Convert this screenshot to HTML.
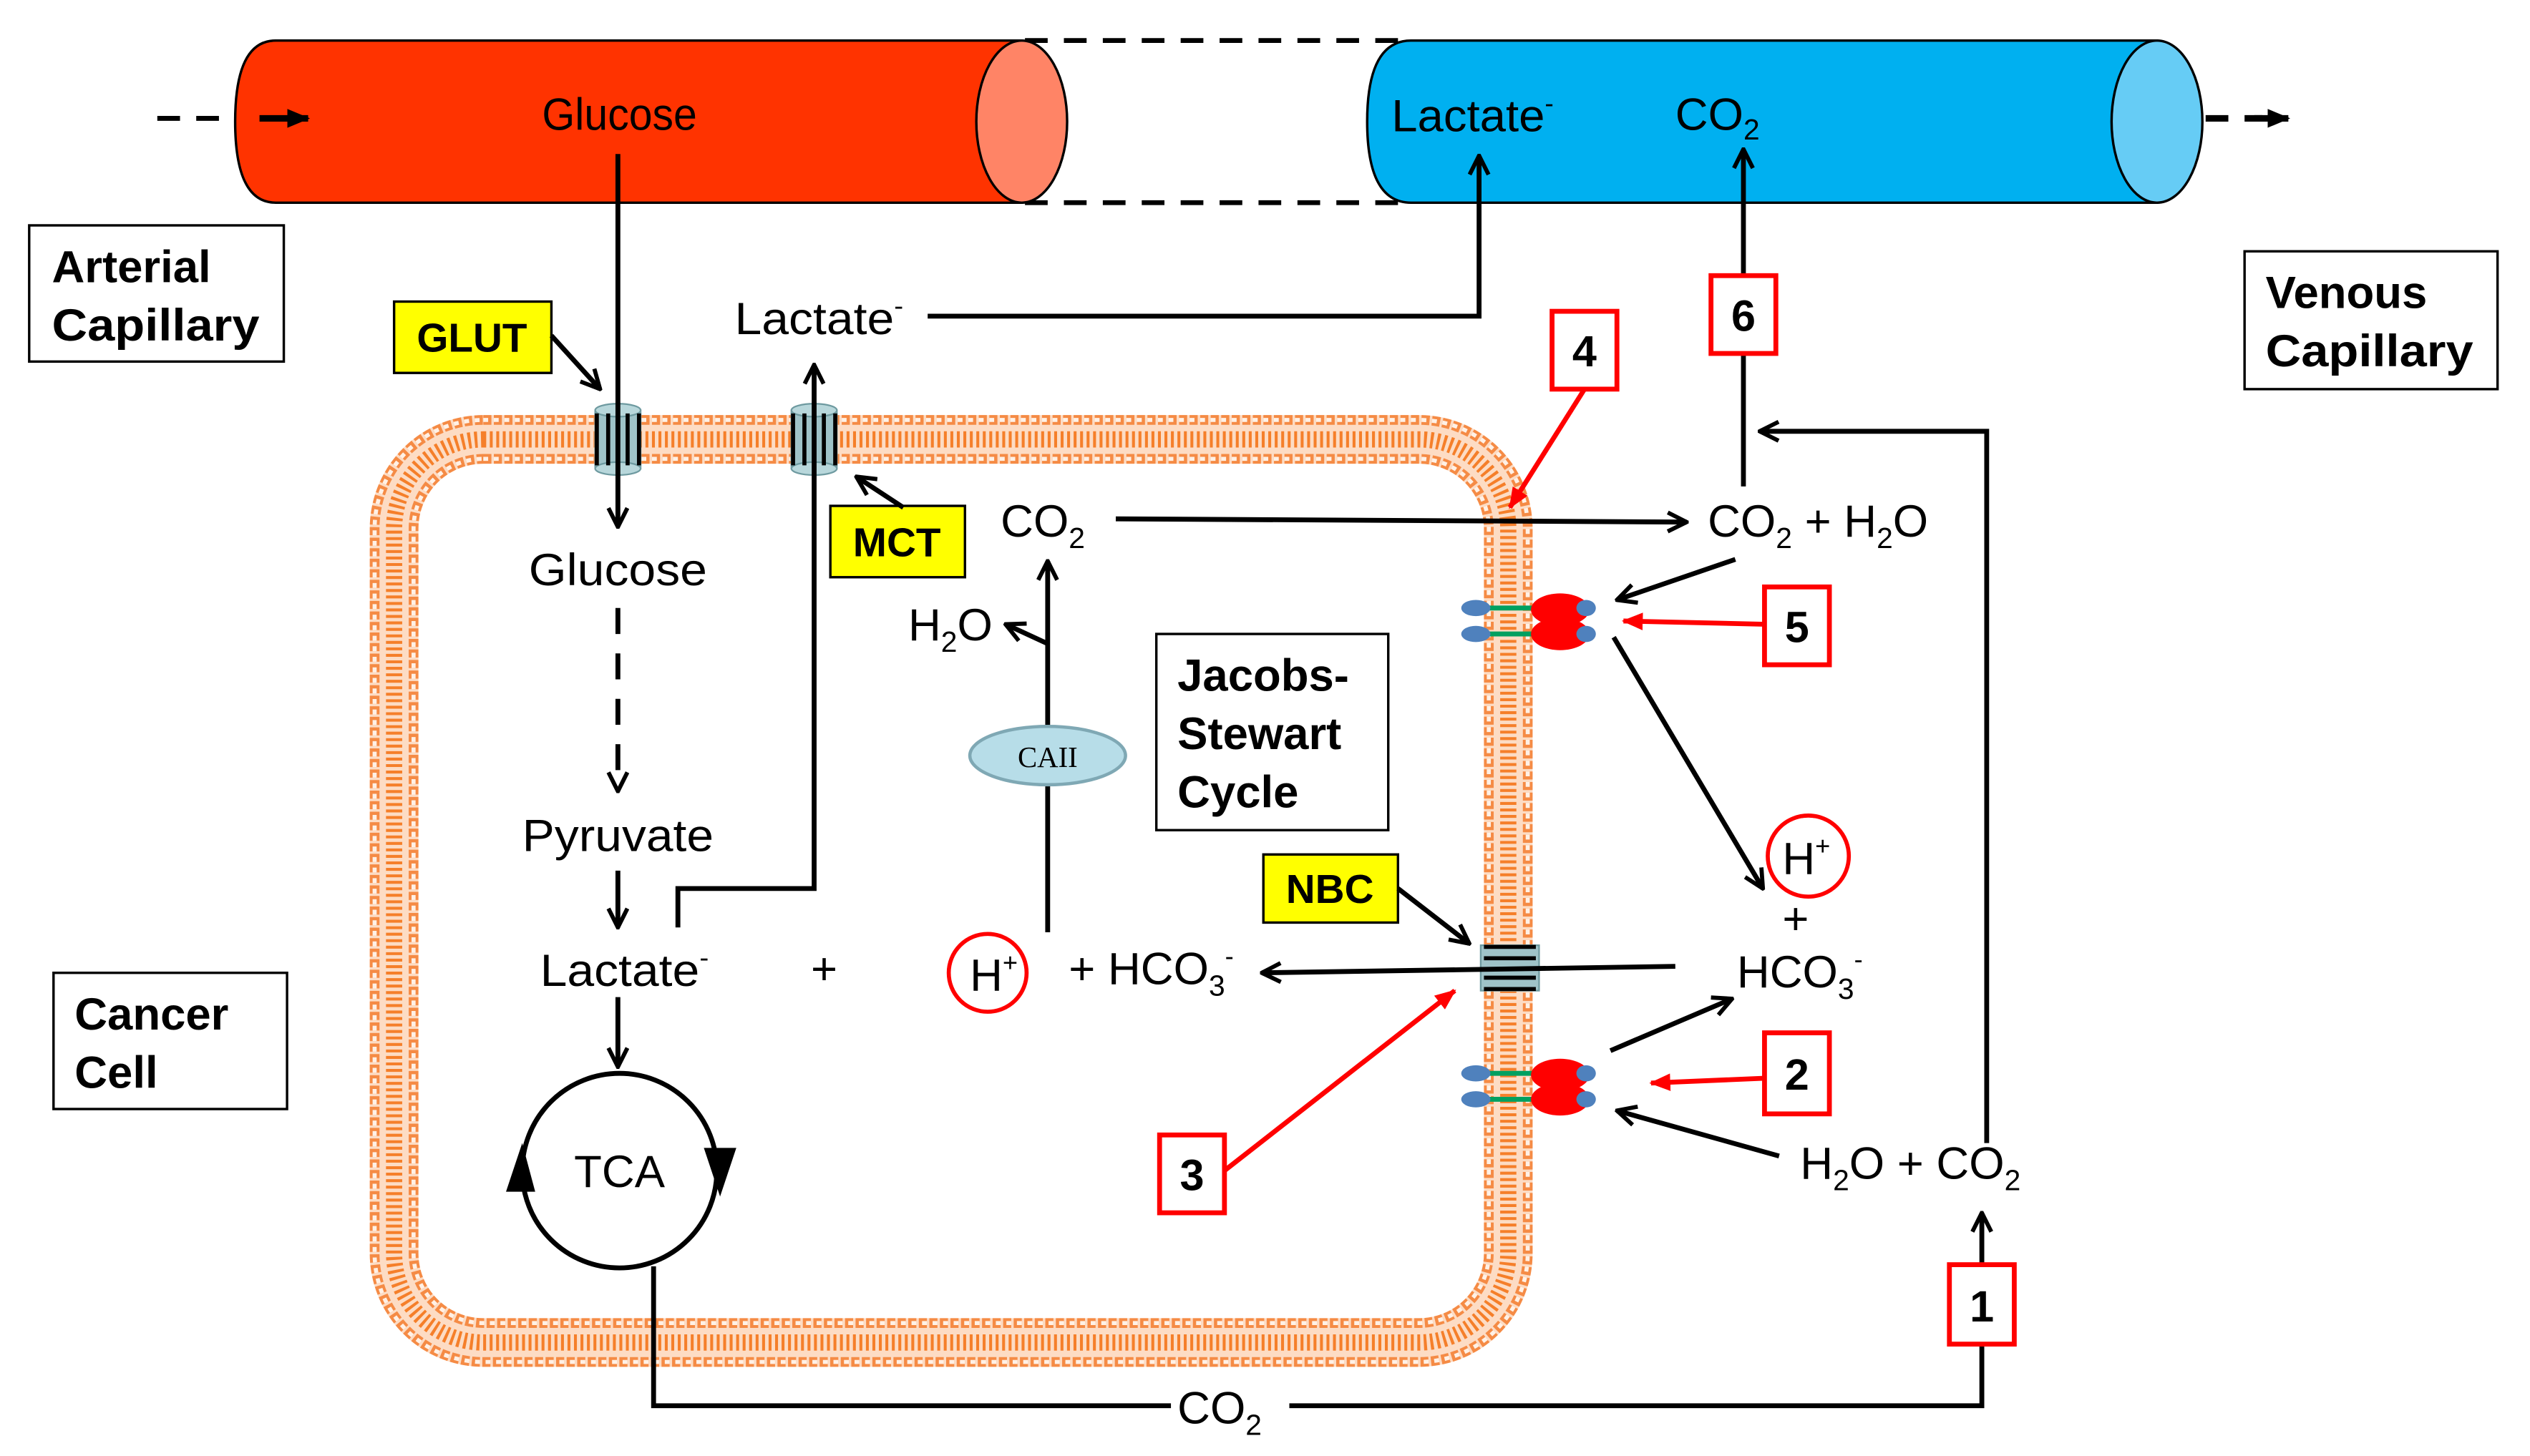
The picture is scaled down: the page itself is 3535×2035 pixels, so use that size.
<!DOCTYPE html>
<html><head><meta charset="utf-8"><style>
html,body{margin:0;padding:0;background:#fff}
svg{display:block}
text{font-family:"Liberation Sans",Arial,sans-serif;fill:#000}
.b{font-weight:bold}
</style></head><body>
<svg width="3535" height="2035" viewBox="0 0 1560 898" preserveAspectRatio="none" xmlns="http://www.w3.org/2000/svg">
<defs>
<marker id="a" viewBox="0 0 12 12" refX="11" refY="6" markerWidth="14" markerHeight="14" markerUnits="userSpaceOnUse" orient="auto">
<path d="M1,1 L11,6 L1,11" fill="none" stroke="#000" stroke-width="2.2"/></marker>
<marker id="r" viewBox="0 0 12 12" refX="11" refY="6" markerWidth="13" markerHeight="13" markerUnits="userSpaceOnUse" orient="auto">
<path d="M0,1 L12,6 L0,11 z" fill="#f00"/></marker>
<marker id="f" viewBox="0 0 12 12" refX="11" refY="6" markerWidth="14" markerHeight="14" markerUnits="userSpaceOnUse" orient="auto">
<path d="M0,1 L12,6 L0,11 z" fill="#000"/></marker>
</defs>

<g stroke="#000" stroke-width="3" stroke-dasharray="14 10" fill="none">
<line x1="632" y1="25" x2="870" y2="25"/><line x1="632" y1="125" x2="870" y2="125"/>
<line x1="97" y1="73" x2="150" y2="73"/>
<line x1="1312" y1="73" x2="1395" y2="73" stroke-width="4"/>
</g>
<path d="M170,25 L630,25 L630,125 L170,125 Q145,125 145,75 Q145,25 170,25 Z" fill="#FF3300" stroke="#000" stroke-width="1.5"/>
<ellipse cx="630" cy="75" rx="28" ry="50" fill="#FF8466" stroke="#000" stroke-width="1.5"/>
<line x1="160" y1="73" x2="190" y2="73" stroke="#000" stroke-width="4" marker-end="url(#f)"/>
<path d="M870,25 L1330,25 L1330,125 L870,125 Q843,125 843,75 Q843,25 870,25 Z" fill="#00B0F0" stroke="#000" stroke-width="1.5"/>
<ellipse cx="1330" cy="75" rx="28" ry="50" fill="#66CCF5" stroke="#000" stroke-width="1.5"/>
<line x1="1390" y1="73" x2="1411" y2="73" stroke="#000" stroke-width="4" marker-end="url(#f)"/>

<g transform="translate(382,80) scale(0.93,1)"><text x="0" y="0" font-size="28" text-anchor="middle">Glucose</text></g>
<text x="858" y="81" font-size="28" textLength="100" lengthAdjust="spacingAndGlyphs">Lactate<tspan font-size="16" dy="-12">-</tspan></text>
<text x="1033" y="80" font-size="28">CO<tspan font-size="18" dy="6">2</tspan></text>

<rect x="18" y="139" width="157" height="84" fill="#fff" stroke="#000" stroke-width="1.5"/>
<text x="32" y="174" font-size="28" class="b">Arterial</text><text x="32" y="210" font-size="28" class="b" textLength="128" lengthAdjust="spacingAndGlyphs">Capillary</text>
<rect x="1384" y="155" width="156" height="85" fill="#fff" stroke="#000" stroke-width="1.5"/>
<text x="1397" y="190" font-size="28" class="b">Venous</text><text x="1397" y="226" font-size="28" class="b" textLength="128" lengthAdjust="spacingAndGlyphs">Capillary</text>
<rect x="33" y="600" width="144" height="84" fill="#fff" stroke="#000" stroke-width="1.5"/>
<text x="46" y="635" font-size="28" class="b">Cancer</text><text x="46" y="671" font-size="28" class="b">Cell</text>

<!-- membrane -->
<rect x="243" y="271" width="687" height="557" rx="55" fill="none" stroke="#FDDCC4" stroke-width="30"/>
<rect x="243" y="271" width="687" height="557" rx="55" fill="none" stroke="#F57F2A" stroke-width="10" stroke-dasharray="1.8 2.2"/>
<rect x="231" y="259" width="711" height="581" rx="67" fill="none" stroke="#F58B45" stroke-width="6" stroke-dasharray="5 1.5"/>
<rect x="255" y="283" width="663" height="533" rx="43" fill="none" stroke="#F58B45" stroke-width="6" stroke-dasharray="5 1.5"/>
<rect x="231" y="259" width="711" height="581" rx="67" fill="none" stroke="#FFF1E6" stroke-width="2.5" stroke-dasharray="3 3.5"/>
<rect x="255" y="283" width="663" height="533" rx="43" fill="none" stroke="#FFF1E6" stroke-width="2.5" stroke-dasharray="3 3.5"/>

<g>
<rect x="367" y="253" width="28" height="36" fill="#9FC3C8" stroke="#6E9AA0"/>
<ellipse cx="381" cy="253" rx="14" ry="4" fill="#B8D7DB" stroke="#6E9AA0"/>
<ellipse cx="381" cy="289" rx="14" ry="4" fill="#B8D7DB" stroke="#6E9AA0"/>
<g stroke="#000" stroke-width="2.5"><line x1="368" y1="255" x2="368" y2="287"/><line x1="375" y1="255" x2="375" y2="287"/><line x1="387" y1="255" x2="387" y2="287"/><line x1="394" y1="255" x2="394" y2="287"/></g>
<rect x="488" y="253" width="28" height="36" fill="#9FC3C8" stroke="#6E9AA0"/>
<ellipse cx="502" cy="253" rx="14" ry="4" fill="#B8D7DB" stroke="#6E9AA0"/>
<ellipse cx="502" cy="289" rx="14" ry="4" fill="#B8D7DB" stroke="#6E9AA0"/>
<g stroke="#000" stroke-width="2.5"><line x1="489" y1="255" x2="489" y2="287"/><line x1="496" y1="255" x2="496" y2="287"/><line x1="508" y1="255" x2="508" y2="287"/><line x1="515" y1="255" x2="515" y2="287"/></g>
</g>
<rect x="913" y="583" width="36" height="28" fill="#9FC3C8" stroke="#6E9AA0"/>
<g stroke="#000" stroke-width="2.5"><line x1="915" y1="584" x2="947" y2="584"/><line x1="915" y1="591" x2="947" y2="591"/><line x1="915" y1="603" x2="947" y2="603"/><line x1="915" y1="610" x2="947" y2="610"/></g>

<g id="ca">
<line x1="910" y1="375" x2="945" y2="375" stroke="#00A060" stroke-width="3"/>
<line x1="910" y1="391" x2="945" y2="391" stroke="#00A060" stroke-width="3"/>
<ellipse cx="910" cy="375" rx="9" ry="5" fill="#4F81BD"/><ellipse cx="910" cy="391" rx="9" ry="5" fill="#4F81BD"/>
<ellipse cx="962" cy="376" rx="18" ry="10" fill="#f00"/><ellipse cx="962" cy="391" rx="18" ry="10" fill="#f00"/>
<ellipse cx="978" cy="375" rx="6" ry="5" fill="#4F81BD"/><ellipse cx="978" cy="391" rx="6" ry="5" fill="#4F81BD"/>
</g>
<use href="#ca" transform="translate(0,287)"/>

<rect x="243" y="186" width="97" height="44" fill="#FFFF00" stroke="#000" stroke-width="1.5"/>
<text x="291" y="217" font-size="25" class="b" text-anchor="middle">GLUT</text>
<rect x="512" y="312" width="83" height="44" fill="#FFFF00" stroke="#000" stroke-width="1.5"/>
<text x="553" y="343" font-size="25" class="b" text-anchor="middle">MCT</text>
<rect x="779" y="527" width="83" height="42" fill="#FFFF00" stroke="#000" stroke-width="1.5"/>
<text x="820" y="557" font-size="25" class="b" text-anchor="middle">NBC</text>

<rect x="713" y="391" width="143" height="121" fill="#fff" stroke="#000" stroke-width="1.5"/>
<text x="726" y="426" font-size="28" class="b">Jacobs-</text>
<text x="726" y="462" font-size="28" class="b">Stewart</text>
<text x="726" y="498" font-size="28" class="b">Cycle</text>

<g stroke="#000" stroke-width="3" fill="none">
<line x1="381" y1="95" x2="381" y2="325" marker-end="url(#a)"/>
<line x1="340" y1="207" x2="370" y2="240" marker-end="url(#a)"/>
<line x1="557" y1="313" x2="528" y2="294" marker-end="url(#a)"/>
<polyline points="572,195 912,195 912,96" marker-end="url(#a)"/>
<polyline points="418,572 418,548 502,548 502,225" marker-end="url(#a)"/>
<line x1="381" y1="375" x2="381" y2="488" stroke-dasharray="16 12" marker-end="url(#a)"/>
<line x1="381" y1="537" x2="381" y2="572" marker-end="url(#a)"/>
<line x1="381" y1="615" x2="381" y2="658" marker-end="url(#a)"/>
<circle cx="382" cy="722" r="60"/>
<polyline points="403,781 403,867 722,867"/>
<polyline points="795,867 1222,867 1222,748" marker-end="url(#a)"/>
<line x1="1033" y1="596" x2="778" y2="600" marker-end="url(#a)"/>
<line x1="646" y1="575" x2="646" y2="346" marker-end="url(#a)"/>
<line x1="646" y1="397" x2="620" y2="385" marker-end="url(#a)"/>
<line x1="688" y1="320" x2="1040" y2="322" marker-end="url(#a)"/>
<line x1="1075" y1="300" x2="1075" y2="218"/>
<line x1="1075" y1="170" x2="1075" y2="92" marker-end="url(#a)"/>
<polyline points="1225,705 1225,266 1085,266" marker-end="url(#a)"/>
<line x1="1070" y1="345" x2="997" y2="370" marker-end="url(#a)"/>
<line x1="995" y1="393" x2="1087" y2="548" marker-end="url(#a)"/>
<line x1="993" y1="648" x2="1068" y2="616" marker-end="url(#a)"/>
<line x1="1097" y1="713" x2="997" y2="685" marker-end="url(#a)"/>
<line x1="862" y1="548" x2="906" y2="582" marker-end="url(#a)"/>
</g>
<path d="M312,735 L322,705 L330,735 Z" fill="#000"/>
<path d="M434,708 L454,708 L444,738 Z" fill="#000"/>

<g stroke="#f00" stroke-width="3" fill="none">
<line x1="977" y1="240" x2="931" y2="313" marker-end="url(#r)"/>
<line x1="1088" y1="385" x2="1001" y2="383" marker-end="url(#r)"/>
<line x1="1088" y1="665" x2="1018" y2="668" marker-end="url(#r)"/>
<line x1="755" y1="722" x2="897" y2="611" marker-end="url(#r)"/>
</g>
<g fill="#fff" stroke="#f00" stroke-width="3">
<rect x="1202" y="780" width="40" height="49"/>
<rect x="1088" y="637" width="40" height="50"/>
<rect x="715" y="700" width="40" height="48"/>
<rect x="957" y="192" width="40" height="48"/>
<rect x="1088" y="362" width="40" height="48"/>
<rect x="1055" y="170" width="40" height="48"/>
</g>
<g font-size="27" class="b" text-anchor="middle">
<text x="1222" y="815" class="b">1</text><text x="1108" y="672" class="b">2</text>
<text x="735" y="734" class="b">3</text><text x="977" y="226" class="b">4</text>
<text x="1108" y="396" class="b">5</text><text x="1075" y="204" class="b">6</text>
</g>

<circle cx="609" cy="600" r="24" fill="none" stroke="#f00" stroke-width="2.5"/>
<circle cx="1115" cy="528" r="25" fill="none" stroke="#f00" stroke-width="2.5"/>

<ellipse cx="646" cy="466" rx="48" ry="18" fill="#B7DDE8" stroke="#7FA8B4" stroke-width="2"/>
<text x="646" y="473" font-size="18" text-anchor="middle" style="font-family:'Liberation Serif',serif">CAII</text>

<g font-size="28">
<text x="453" y="206" textLength="104" lengthAdjust="spacingAndGlyphs">Lactate<tspan font-size="16" dy="-12">-</tspan></text>
<text x="381" y="361" text-anchor="middle" textLength="110" lengthAdjust="spacingAndGlyphs">Glucose</text>
<text x="381" y="525" text-anchor="middle" textLength="118" lengthAdjust="spacingAndGlyphs">Pyruvate</text>
<text x="333" y="608" textLength="104" lengthAdjust="spacingAndGlyphs">Lactate<tspan font-size="16" dy="-12">-</tspan></text>
<text x="500" y="607">+</text>
<text x="598" y="611">H<tspan font-size="16" dy="-12">+</tspan></text>
<text x="659" y="607">+ HCO<tspan font-size="18" dy="7">3</tspan><tspan font-size="16" dy="-19">-</tspan></text>
<text x="382" y="732" text-anchor="middle">TCA</text>
<text x="726" y="878">CO<tspan font-size="18" dy="7">2</tspan></text>
<text x="617" y="331">CO<tspan font-size="18" dy="7">2</tspan></text>
<text x="560" y="395">H<tspan font-size="18" dy="7">2</tspan><tspan dy="-7">O</tspan></text>
<text x="1053" y="331">CO<tspan font-size="18" dy="7">2</tspan><tspan dy="-7"> + H</tspan><tspan font-size="18" dy="7">2</tspan><tspan dy="-7">O</tspan></text>
<text x="1099" y="539">H<tspan font-size="16" dy="-12">+</tspan></text>
<text x="1099" y="576">+</text>
<text x="1071" y="609">HCO<tspan font-size="18" dy="7">3</tspan><tspan font-size="16" dy="-19">-</tspan></text>
<text x="1110" y="727">H<tspan font-size="18" dy="7">2</tspan><tspan dy="-7">O + CO</tspan><tspan font-size="18" dy="7">2</tspan></text>
</g>
</svg>
</body></html>
